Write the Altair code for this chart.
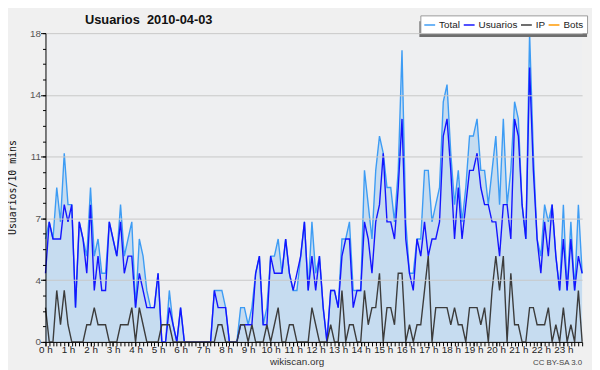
import altair as alt
import pandas as pd

# ---- data (users per 10 minutes, 144 slots) ----
total = [6, 7, 6, 9, 7, 11, 8, 8, 2, 7, 6, 5, 9, 5, 6, 4, 4, 7, 6, 5, 8, 5, 6, 7,
         2, 6, 5, 3, 2, 2, 4, 0, 0, 3, 1, 0, 2, 0, 0, 0, 0, 0, 0, 0, 0, 3, 3, 3,
         2, 0, 0, 0, 2, 2, 1, 2, 4, 5, 1, 2, 5, 5, 6, 4, 6, 4, 3, 3, 5, 7, 3, 7,
         4, 5, 2, 0, 3, 3, 2, 6, 6, 7, 3, 3, 3, 10, 8, 6, 10, 12, 11, 9, 9, 7, 10, 17,
         7, 4, 4, 6, 6, 10, 10, 7, 8, 9, 14, 15, 11, 8, 10, 7, 9, 12, 12, 13, 10, 10, 8, 10,
         12, 8, 13, 8, 10, 14, 13, 8, 6, 18, 11, 6, 5, 8, 7, 8, 5, 3, 8, 3, 7, 3, 8, 4]
usuarios = [4, 7, 6, 6, 6, 8, 7, 8, 2, 7, 6, 4, 8, 3, 5, 3, 3, 7, 6, 5, 7, 4, 5, 5,
            2, 4, 3, 2, 2, 2, 4, 0, 0, 2, 1, 0, 2, 0, 0, 0, 0, 0, 0, 0, 0, 3, 2, 2,
            2, 0, 0, 0, 1, 1, 1, 1, 4, 5, 1, 1, 5, 4, 4, 4, 6, 4, 3, 4, 5, 7, 3, 5,
            3, 5, 2, 0, 3, 3, 2, 5, 6, 6, 2, 3, 3, 7, 6, 4, 7, 8, 11, 7, 7, 6, 9, 13,
            6, 4, 3, 6, 5, 7, 5, 6, 6, 7, 12, 13, 10, 6, 9, 6, 8, 10, 10, 11, 9, 8, 8, 7,
            7, 5, 8, 8, 6, 13, 12, 8, 6, 16, 10, 6, 4, 7, 5, 8, 5, 3, 6, 3, 6, 3, 5, 4]
ip = [2, 0, 0, 3, 1, 3, 1, 0, 0, 0, 0, 1, 1, 2, 1, 1, 1, 0, 0, 0, 1, 1, 1, 2,
      0, 2, 1, 0, 0, 0, 0, 1, 1, 1, 0, 0, 0, 0, 0, 0, 0, 0, 0, 0, 0, 0, 1, 1,
      0, 0, 0, 0, 1, 1, 0, 1, 0, 0, 0, 1, 0, 1, 2, 0, 0, 1, 1, 0, 0, 0, 0, 2,
      1, 0, 0, 0, 1, 0, 0, 3, 0, 1, 1, 0, 0, 3, 1, 2, 2, 4, 0, 2, 2, 1, 4, 4,
      0, 1, 0, 1, 1, 3, 5, 0, 2, 2, 2, 2, 1, 2, 1, 1, 0, 2, 2, 2, 1, 2, 0, 3,
      5, 3, 5, 0, 4, 1, 1, 0, 0, 2, 2, 1, 1, 1, 2, 0, 1, 0, 2, 0, 1, 0, 3, 0]
bots = [0] * 144

series = ["Total", "Usuarios", "IP", "Bots"]
series_colors = ["#3d9cf4", "#1414ff", "#3c3c3c", "#ff9900"]
y_tick_values = [0, 3.6, 7.2, 10.8, 14.4, 18]
y_minor_values = [k * 0.9 for k in range(21)]

title_text = "Usuarios\u00a0 2010-04-03"
y_title = "Usuarios/10 mins"
footer_site = "wikiscan.org"
footer_license = "CC BY-SA 3.0"

# ---- tables ----
slots = list(range(144))
wide = pd.DataFrame({"i": slots, "Total": total, "Usuarios": usuarios,
                     "IP": ip, "Bots": bots})
long = wide.melt("i", var_name="serie", value_name="v")
long_drawn = long[long["serie"] != "Bots"]

xscale = alt.Scale(domain=[0, 143], nice=False, zero=False)
yscale = alt.Scale(domain=[0, 18], nice=False)

label_expr = "floor(datum.value / 6) + ' h'"

x_main = alt.X("i:Q", scale=xscale, axis=alt.Axis(
    values=list(range(0, 144, 6)), labelExpr=label_expr, title=None,
    grid=False, tickSize=4, tickColor="#000", domainColor="#000",
    labelFont="Liberation Sans", labelFontSize=10, labelColor="#222",
    labelPadding=-1, labelFlush=False, labelOverlap=False, zindex=1))
x_minor = alt.X("i:Q", scale=xscale, axis=alt.Axis(
    values=slots, labels=False, title=None, grid=False, tickSize=4,
    tickColor="#000", domain=False, orient="bottom", zindex=1))

y_main_axis = alt.Axis(
    values=y_tick_values, format=".0f", title=y_title,
    titleFont="DejaVu Sans Mono", titleFontSize=10, titleFontWeight="normal",
    titleColor="#111", titleX=-33, titleY=156, titleAngle=270,
    titleAlign="center", titleBaseline="middle",
    grid=True, gridColor="#c8c8c8", tickSize=5, tickColor="#000",
    domainColor="#000", labelFont="Liberation Sans", labelFontSize=10,
    labelColor="#555", labelPadding=0, zindex=1)
y_minor = alt.Y("v:Q", scale=yscale, axis=alt.Axis(
    values=y_minor_values, labels=False, title=None, grid=False, tickSize=3,
    tickColor="#000", domain=False, orient="left", zindex=1))

area = alt.Chart(wide).mark_area(color="#c6dcf0", opacity=1).encode(
    x=x_main, y=alt.Y("Total:Q", scale=yscale, axis=y_main_axis))

lines = alt.Chart(long_drawn).mark_line(strokeWidth=1.4).encode(
    x=x_minor, y=y_minor,
    color=alt.Color("serie:N", scale=alt.Scale(domain=series, range=series_colors),
                    legend=alt.Legend(
                        title=None, orient="none", legendX=380, legendY=-18,
                        direction="horizontal", fillColor="white",
                        strokeColor="#999999", padding=3, symbolType="stroke",
                        symbolSize=121, symbolStrokeWidth=1.5,
                        labelFont="Liberation Sans", labelFontSize=10,
                        labelColor="#222", columnPadding=0, labelOffset=3)),
    detail="serie:N")

shadow = alt.Chart(pd.DataFrame({"k": [0]})).mark_rect(color="#6e6e6e").encode(
    x=alt.value(379), x2=alt.value(549), y=alt.value(-12), y2=alt.value(4))

title_df = pd.DataFrame({"t": [title_text]})
title_mark = alt.Chart(title_df).mark_text(
    font="Liberation Sans", fontSize=13, fontWeight="bold", color="#111",
    align="left", baseline="alphabetic").encode(
    text="t:N", x=alt.value(40), y=alt.value(-9))

site_mark = alt.Chart(pd.DataFrame({"t": [footer_site]})).mark_text(
    font="Liberation Sans", fontSize=10, color="#333", align="center",
    baseline="alphabetic").encode(text="t:N", x=alt.value(255), y=alt.value(336))

lic_mark = alt.Chart(pd.DataFrame({"t": [footer_license]})).mark_text(
    font="Liberation Sans", fontSize=8, color="#444", align="right",
    baseline="alphabetic").encode(text="t:N", x=alt.value(544), y=alt.value(336))

chart = alt.layer(area, lines, shadow, title_mark, site_mark, lic_mark).resolve_axis(
    x="independent", y="independent").properties(
    width=544, height=313, background="#f0f0f0",
    padding={"left": 38, "top": 23, "right": 10, "bottom": 26},
    autosize=alt.AutoSizeParams(type="none")).configure_view(
    fill="#eeeff1", strokeWidth=0)

chart.save("out.html", embed_options={"renderer": "svg", "actions": False})
